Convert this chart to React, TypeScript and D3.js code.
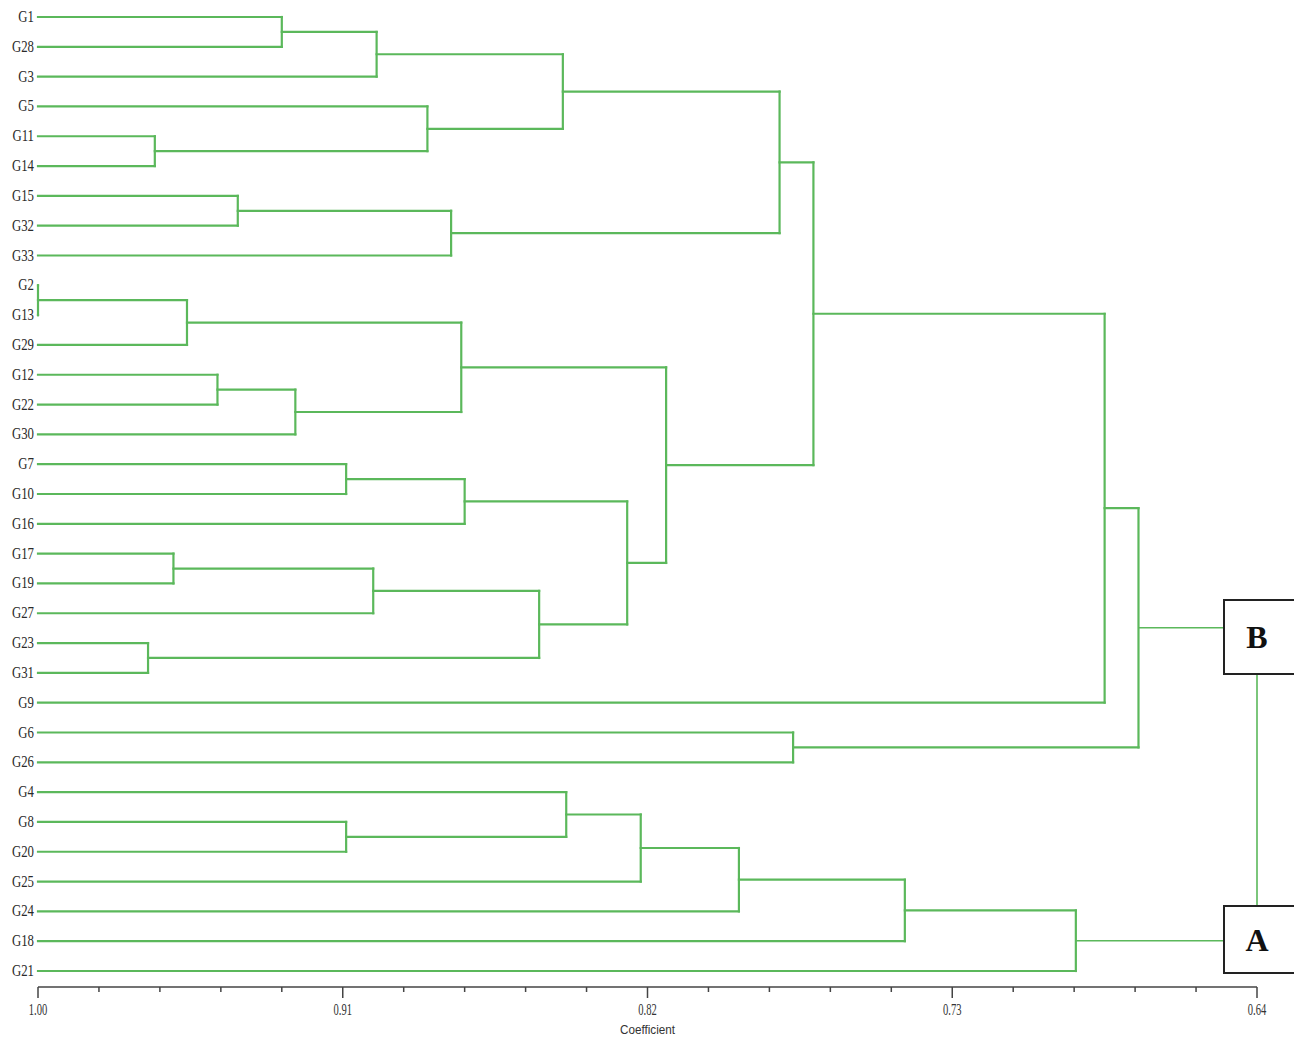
import React from "react";
import * as d3 from "d3";

const leaves = [
  "G1", "G28", "G3", "G5", "G11", "G14", "G15", "G32", "G33", "G2", "G13", "G29",
  "G12", "G22", "G30", "G7", "G10", "G16", "G17", "G19", "G27", "G23", "G31", "G9",
  "G6", "G26", "G4", "G8", "G20", "G25", "G24", "G18", "G21",
];

// merge id, left child, right child, coefficient
const mergeIds = [
  "M1", "M2", "M3", "M4", "M5", "M6", "M7", "M8", "M9", "M10", "M11", "M12", "M13", "M14", "M15", "M16",
  "M17", "M18", "M19", "M20", "M21", "M22", "M23", "M24", "M25", "M26", "M27", "M28", "M29", "M30", "M31",
];
const mergeLeft = [
  "G1", "M1", "G11", "G5", "M2", "G15", "M6", "M5", "G2", "M9", "G12", "M11", "M10", "G7", "M14", "G17",
  "M16", "G23", "M17", "M15", "M13", "M8", "M22", "G6", "M23", "G8", "G4", "M27", "M28", "M29", "M30",
];
const mergeRight = [
  "G28", "G3", "G14", "M3", "M4", "G32", "G33", "M7", "G13", "G29", "G22", "G30", "M12", "G10", "G16", "G19",
  "G27", "G31", "M18", "M19", "M20", "M21", "G9", "G26", "M24", "G20", "M26", "G25", "G24", "G18", "G21",
];
const mergeCoef = [
  0.928, 0.9, 0.9655, 0.885, 0.845, 0.941, 0.878, 0.781, 1.0, 0.956, 0.947, 0.924, 0.875, 0.909, 0.874, 0.96,
  0.901, 0.9675, 0.852, 0.826, 0.8145, 0.771, 0.685, 0.777, 0.675, 0.909, 0.844, 0.822, 0.793, 0.744, 0.6935,
];

const groupNames = ["B", "A"];
const groupRoots = ["M25", "M31"];

const majorTicks = [1.0, 0.91, 0.82, 0.73, 0.64];
const minorStep = 0.018;

const GREEN = "#5bb85b";

export default function App() {
  const W = 1294;
  const H = 1038;
  const x = d3.scaleLinear().domain([1.0, 0.64]).range([38, 1257]);
  const y = d3.scalePoint<string>().domain(leaves).range([17, 971]);

  const pos: Record<string, { x: number; y: number }> = {};
  leaves.forEach((l) => (pos[l] = { x: x(1.0), y: y(l)! }));
  const segs: { x1: number; y1: number; x2: number; y2: number }[] = [];
  mergeIds.forEach((id, i) => {
    const a = pos[mergeLeft[i]];
    const b = pos[mergeRight[i]];
    const mx = x(mergeCoef[i]);
    const my = (a.y + b.y) / 2;
    segs.push({ x1: a.x, y1: a.y, x2: mx, y2: a.y });
    segs.push({ x1: b.x, y1: b.y, x2: mx, y2: b.y });
    segs.push({ x1: mx, y1: a.y, x2: mx, y2: b.y });
    pos[id] = { x: mx, y: my };
  });

  const minorTicks = d3.range(0, 21).map((k) => 1.0 - k * minorStep).filter(
    (v) => !majorTicks.some((m) => Math.abs(m - v) < 1e-6)
  );

  const axisY = 987;
  const boxX = 1224;
  const boxes = [
    { top: 600, bottom: 674 },
    { top: 906, bottom: 973 },
  ];
  const centerX = x(0.64);
  const midX = (x(1.0) + x(0.64)) / 2;

  return (
    <svg
      width={W}
      height={H}
      style={{ position: "absolute", left: 0, top: 0, background: "#fff" }}
    >
      <rect width={W} height={H} fill="#fff" />
      {/* dendrogram */}
      <g stroke={GREEN} strokeWidth={2.2} fill="none" strokeLinecap="square">
        {segs.map((s, i) => (
          <line key={i} x1={s.x1} y1={s.y1} x2={s.x2} y2={s.y2} />
        ))}
      </g>
      {/* leaf labels */}
      <g fontFamily="'Liberation Serif', serif" fontSize={16} fill="#2a2a2a">
        {leaves.map((l) => (
          <text
            key={l}
            transform={`translate(34,${y(l)! + 5}) scale(0.8,1)`}
            textAnchor="end"
          >
            {l}
          </text>
        ))}
      </g>
      {/* connectors to group boxes */}
      {groupRoots.map((r) => (
        <line
          key={r}
          x1={pos[r].x}
          x2={boxX}
          y1={pos[r].y}
          y2={pos[r].y}
          stroke={GREEN}
          strokeWidth={1.6}
        />
      ))}
      <line
        x1={centerX}
        x2={centerX}
        y1={boxes[0].bottom}
        y2={boxes[1].top}
        stroke={GREEN}
        strokeWidth={1.6}
      />
      {groupNames.map((g, i) => (
        <g key={g}>
          <rect
            x={boxX}
            y={boxes[i].top}
            width={90}
            height={boxes[i].bottom - boxes[i].top}
            fill="#fff"
            stroke="#222"
            strokeWidth={2}
          />
          <text
            x={centerX}
            y={(boxes[i].top + boxes[i].bottom) / 2 + 11}
            textAnchor="middle"
            fontFamily="'Liberation Serif', serif"
            fontWeight="bold"
            fontSize={32}
            fill="#111"
          >
            {g}
          </text>
        </g>
      ))}
      {/* axis */}
      <g stroke="#444" strokeWidth={1.5}>
        <line x1={x(1.0)} x2={x(0.64)} y1={axisY} y2={axisY} />
        {majorTicks.map((t) => (
          <line key={t} x1={x(t)} x2={x(t)} y1={axisY} y2={axisY + 11} />
        ))}
        {minorTicks.map((t) => (
          <line key={t} x1={x(t)} x2={x(t)} y1={axisY} y2={axisY + 5} />
        ))}
      </g>
      <g fontFamily="'Liberation Serif', serif" fontSize={16} fill="#333">
        {majorTicks.map((t) => (
          <text
            key={t}
            transform={`translate(${x(t)},${axisY + 28}) scale(0.66,1)`}
            textAnchor="middle"
          >
            {t.toFixed(2)}
          </text>
        ))}
      </g>
      <text
        transform={`translate(${midX},1034) scale(0.9,1)`}
        textAnchor="middle"
        fontFamily="'Liberation Sans', sans-serif"
        fontSize={13}
        fill="#333"
      >
        Coefficient
      </text>
    </svg>
  );
}
